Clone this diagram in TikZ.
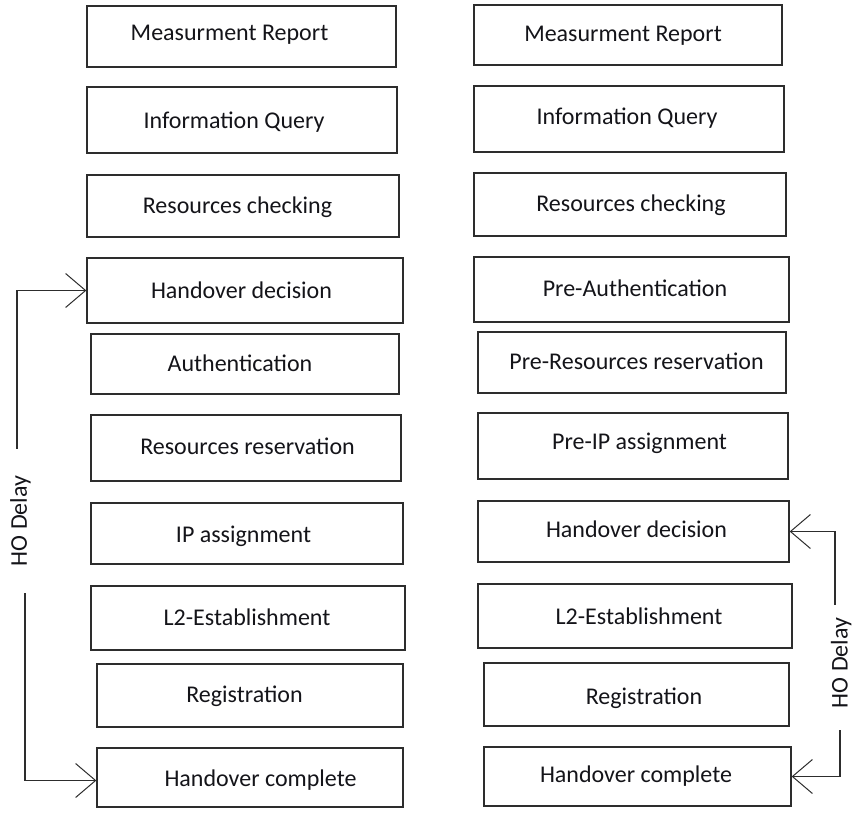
\documentclass[tikz,border=0pt]{standalone}
\usepackage{fontspec}
\setmainfont{Carlito}
\usepackage{tikz}
\usetikzlibrary{arrows.meta}
\usetikzlibrary{positioning}

\definecolor{linecol}{RGB}{45,45,45}
\definecolor{textcol}{RGB}{20,20,25}

\begin{document}
\begin{tikzpicture}
  [
    x=1pt, y=-1pt,
    >={Straight Barb[length=20pt, width=34pt, line width=1pt]},
    stage/.style 2 args = {draw=linecol, rectangle, line width=1.3pt, inner sep=0pt, minimum width=#1pt, minimum height=#2pt},
    every label/.style = {font=\fontsize{24}{28}\selectfont, text=textcol, text height=15pt, text depth=0pt, inner sep=0pt},
    delay/.style = {font=\fontsize{24}{28}\selectfont, text=textcol, rotate=90, text height=15pt, text depth=0pt, inner ysep=0pt},
    ho/.style = {->, draw=linecol, line width=1.3pt},
  ]

  \useasboundingbox (0,0) rectangle (853,812);

  % left column
  \node (mrL) at (241.5,36.5) [stage={309}{61}, label={[shift={(-12,-3.5)}]center:Measurment Report}] {};
  \node (iqL) at (242,120)    [stage={310}{66}, label={[shift={(-8,1)}]center:Information Query}] {};
  \node (rcL) at (243,206)    [stage={312}{62}, label={[shift={(-5.5,0)}]center:Resources checking}] {};
  \node (hdL) at (245,290.5)  [stage={316}{65}, label={[shift={(-3.5,0.5)}]center:Handover decision}] {};
  \node (auL) at (245,364)    [stage={308}{60}, label={[shift={(-5,0)}]center:Authentication}] {};
  \node (rrL) at (246,448)    [stage={310}{66}, label={[shift={(1.5,-1.5)}]center:Resources reservation}] {};
  \node (ipL) at (247,533.5)  [stage={312}{61}, label={[shift={(-3.5,1)}]center:IP assignment}] {};
  \node (l2L) at (248,618)    [stage={314}{64}, label={[shift={(-1,0)}]center:L2-Establishment}] {};
  \node (rgL) at (250,695.5)  [stage={306}{63}, label={[shift={(-5.5,-1)}]center:Registration}] {};
  \node (hcL) at (250,777.5)  [stage={306}{59}, label={[shift={(10.5,1.5)}]center:Handover complete}] {};

  % right column
  \node (mrR) at (628,35)     [stage={308}{60}, label={[shift={(-5,-1)}]center:Measurment Report}] {};
  \node (iqR) at (629,119)    [stage={310}{66}, label={[shift={(-2,-2)}]center:Information Query}] {};
  \node (rcR) at (630,204.5)  [stage={312}{63}, label={[shift={(1,-1)}]center:Resources checking}] {};
  \node (paR) at (631.5,289.5)[stage={315}{65}, label={[shift={(3.5,-0.5)}]center:Pre-Authentication}] {};
  \node (prR) at (632,362.5)  [stage={308}{61}, label={[shift={(4.5,-1)}]center:Pre-Resources reservation}] {};
  \node (piR) at (633,446)    [stage={310}{66}, label={[shift={(6.5,-4.5)}]center:Pre-IP assignment}] {};
  \node (hdR) at (633.5,531.5)[stage={311}{61}, label={[shift={(3,-2)}]center:Handover decision}] {};
  \node (l2R) at (635,616)    [stage={314}{64}, label={[shift={(4,0.5)}]center:L2-Establishment}] {};
  \node (rgR) at (636.5,694.5)[stage={305}{63}, label={[shift={(7.5,2.5)}]center:Registration}] {};
  \node (hcR) at (637.5,776.5)[stage={307}{59}, label={[shift={(-1.5,-1.5)}]center:Handover complete}] {};

  % delay brackets
  \node (hoL) at (19.5,521) [delay, inner xsep=27pt] {HO Delay};
  \node (hoR) at (840,663)  [delay, inner xsep=17pt] {HO Delay};

  \draw[ho] ([xshift=-2.5pt]hoL.east) |- (hdL.west);
  \draw[ho] ([xshift=5.5pt]hoL.west) |- ([yshift=-3pt]hcL.west);
  \draw[ho] ([xshift=-5pt,yshift=-4pt]hoR.east) |- (hdR.east);
  \draw[ho] ([xshift=0pt,yshift=-5pt]hoR.west) |- (hcR.east);

\end{tikzpicture}
\end{document}
